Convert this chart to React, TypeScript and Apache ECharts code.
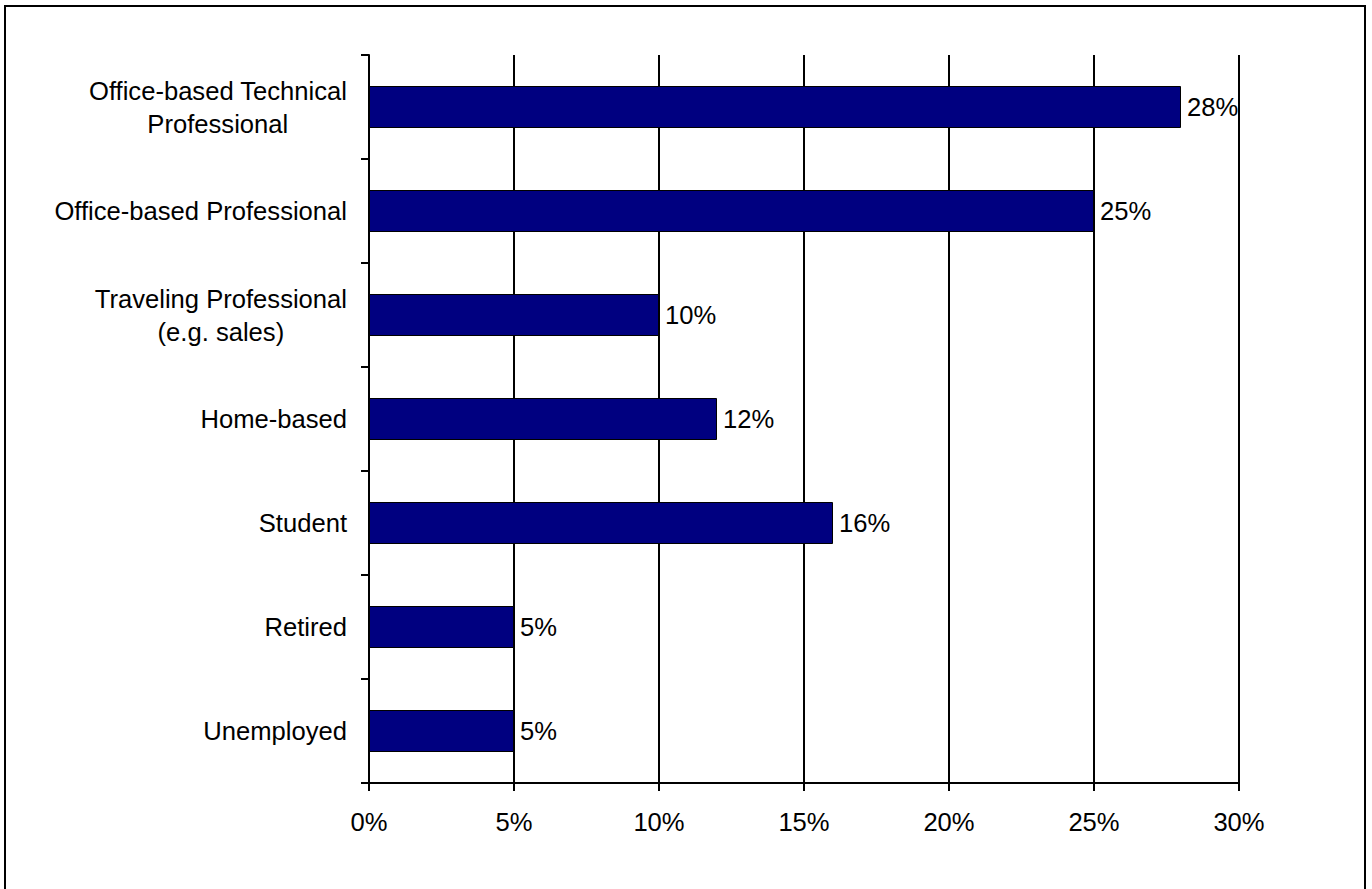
import React, { useEffect, useRef } from "react";
import * as echarts from "echarts";

const categories = [
  "Office-based Technical\nProfessional",
  "Office-based Professional",
  "Traveling Professional\n(e.g. sales)",
  "Home-based",
  "Student",
  "Retired",
  "Unemployed",
];
const values = [28, 25, 10, 12, 16, 5, 5];
const xTicks = [0, 5, 10, 15, 20, 25, 30];

const FONT = "Arial, 'Liberation Sans', sans-serif";
const FS = 25.6;
const LH = 33;

function measure(text: string): number {
  const c = document.createElement("canvas");
  const ctx = c.getContext("2d");
  if (!ctx) return text.length * FS * 0.5;
  ctx.font = `${FS}px ${FONT}`;
  return ctx.measureText(text).width;
}

export default function App() {
  const ref = useRef<HTMLDivElement>(null);
  useEffect(() => {
    if (!ref.current) return;
    const chart = echarts.init(ref.current, null, { renderer: "svg" });

    // rich styles so that the lines of multi-line labels are centred on each other
    const rich: Record<string, any> = {};
    const formatted: Record<string, string> = {};
    categories.forEach((cat, i) => {
      const lines = cat.split("\n");
      const widths = lines.map(measure);
      const maxW = Math.max(...widths);
      formatted[cat] = lines
        .map((ln, j) => {
          const key = `c${i}_${j}`;
          rich[key] = {
            fontSize: FS,
            fontFamily: FONT,
            color: "#000",
            lineHeight: LH,
            padding: [0, (maxW - widths[j]) / 2, 0, 0],
          };
          return `{${key}|${ln}}`;
        })
        .join("\n");
    });

    chart.setOption({
      animation: false,
      backgroundColor: "#ffffff",
      grid: { left: 369, right: 133, top: 55, bottom: 106, containLabel: false },
      graphic: [
        {
          type: "rect",
          shape: { x: 5, y: 6, width: 1360, height: 900 },
          style: { fill: "none", stroke: "#000", lineWidth: 2 },
          silent: true,
        },
      ],
      xAxis: {
        type: "value",
        min: xTicks[0],
        max: xTicks[xTicks.length - 1],
        interval: 5,
        axisLine: { show: true, lineStyle: { color: "#000", width: 2 } },
        axisTick: { show: true, length: 8, lineStyle: { color: "#000", width: 2 } },
        splitLine: { show: true, lineStyle: { color: "#000", width: 2 } },
        axisLabel: {
          formatter: "{value}%",
          color: "#000",
          fontSize: FS,
          fontFamily: FONT,
          margin: 26,
        },
      },
      yAxis: {
        type: "category",
        data: categories,
        inverse: true,
        axisLine: { show: true, lineStyle: { color: "#000", width: 2 } },
        axisTick: {
          show: true,
          length: 8,
          alignWithLabel: false,
          lineStyle: { color: "#000", width: 2 },
        },
        axisLabel: {
          color: "#000",
          fontSize: FS,
          fontFamily: FONT,
          margin: 22,
          lineHeight: LH,
          align: "right",
          formatter: (v: string) => formatted[v] ?? v,
          rich,
        },
      },
      series: [
        {
          type: "bar",
          data: values,
          barWidth: 42,
          itemStyle: { color: "#000080", borderColor: "#000", borderWidth: 1 },
          label: {
            show: true,
            position: "right",
            distance: 6,
            formatter: "{c}%",
            color: "#000",
            fontSize: FS,
            fontFamily: FONT,
          },
        },
      ],
    });
    return () => chart.dispose();
  }, []);
  return (
    <div
      ref={ref}
      style={{ position: "fixed", left: 0, top: 0, width: 1372, height: 889 }}
    />
  );
}
